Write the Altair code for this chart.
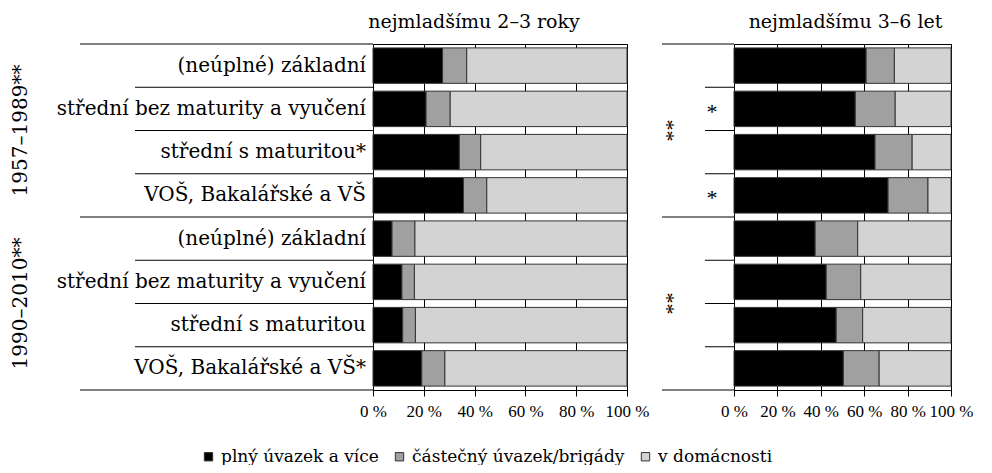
import altair as alt
import pandas as pd

# ---------------- data ----------------
rows = [0, 1, 2, 3, 4, 5, 6, 7]
labels = ["(neúplné) základní", "střední bez maturity a vyučení", "střední s maturitou*",
          "VOŠ, Bakalářské a VŠ",
          "(neúplné) základní", "střední bez maturity a vyučení", "střední s maturitou",
          "VOŠ, Bakalářské a VŠ*"]
groups = ["1957–1989**", "1990–2010**"]
group_mid_rows = [2, 6]          # group label sits at the top edge of this row
outer_rows = [0, 4]              # rows whose top separator spans the group column
inner_rows = [1, 2, 3, 5, 6, 7]
categories = ["plný úvazek a více", "částečný úvazek/brigády", "v domácnosti"]
colors = ["#000000", "#a0a0a0", "#d3d3d3"]
panel_titles = ["nejmladšímu 2–3 roky", "nejmladšímu 3–6 let"]
tick_values = [0, 20, 40, 60, 80, 100]

full_23 = [27.4, 20.9, 34.0, 35.6, 7.5, 11.4, 11.7, 19.2]
part_23 = [9.5, 9.5, 8.4, 9.2, 9.0, 4.9, 5.0, 9.1]
home_23 = [63.1, 69.6, 57.6, 55.2, 83.5, 83.7, 83.3, 71.7]

full_36 = [60.9, 55.9, 65.0, 71.0, 37.4, 42.5, 47.1, 50.4]
part_36 = [13.0, 18.4, 17.1, 18.4, 19.6, 15.9, 12.2, 16.5]
home_36 = [26.1, 25.7, 17.9, 10.6, 43.0, 41.6, 40.7, 33.1]

right_row_marks = ["", "*", "", "*", "", "", "", ""]
right_group_marks = ["**", "**"]

# ---------------- styling ----------------
FONT = "DejaVu Serif"
TICKFONT = "Liberation Serif"
H = 346
STEP = H / 8
W_LEFT = 254
W_RIGHT = 217

yscale = alt.Scale(domain=rows, paddingInner=0.18, paddingOuter=0.09)
Y = alt.Y("row:O", scale=yscale, axis=None)


def long_df(full, part, home):
    recs = []
    for r, a, b, c in zip(rows, full, part, home):
        for k, (cat, v) in enumerate(zip(categories, [a, b, c])):
            recs.append({"row": r, "category": cat, "value": v, "ord": k})
    return pd.DataFrame(recs)


def bars(full, part, home):
    return alt.Chart(long_df(full, part, home)).mark_bar(
        stroke="#333333", strokeWidth=1
    ).encode(
        x=alt.X("value:Q", stack="zero",
                scale=alt.Scale(domain=[0, 100], nice=False),
                axis=alt.Axis(values=tick_values, labelExpr="datum.value + ' %'",
                              title=None, grid=True, gridColor="black", gridOpacity=1,
                              gridWidth=1, domainColor="black", tickColor="black",
                              tickSize=6, labelFont=TICKFONT, labelFontSize=17,
                              labelColor="black", labelPadding=7, labelOverlap=False,
                              labelFlush=False)),
        y=Y,
        color=alt.Color("category:N",
                        scale=alt.Scale(domain=categories, range=colors),
                        sort=categories,
                        legend=alt.Legend(title=None, orient="none", direction="horizontal",
                                          legendX=-173, legendY=404,
                                          symbolType="square", symbolSize=70,
                                          symbolStrokeColor="#333333", symbolStrokeWidth=1,
                                          labelFont=FONT, labelFontSize=17,
                                          labelColor="black", labelOffset=4,
                                          labelLimit=0, columnPadding=12)),
        order=alt.Order("ord:Q"),
    )


def rules(row_list, x_start, offset):
    return alt.Chart(pd.DataFrame({"row": row_list})).mark_rule(
        color="black", strokeWidth=1, yOffset=offset
    ).encode(y=Y, x=alt.value(x_start), x2=alt.value(0))


df_rows = pd.DataFrame({"row": rows, "label": labels, "mark": right_row_marks})
df_groups = pd.DataFrame({"row": group_mid_rows, "group": groups, "mark": right_group_marks})

# ---------------- left panel ----------------
left_labels = alt.Chart(df_rows).mark_text(
    align="right", baseline="middle", font=FONT, fontSize=20, color="black"
).encode(y=Y, x=alt.value(-7), text="label:N")

left_groups = alt.Chart(df_groups).mark_text(
    angle=270, align="center", baseline="middle", font=FONT, fontSize=20,
    color="black", yOffset=-STEP / 2
).encode(y=Y, x=alt.value(-352), text="group:N")

left = alt.layer(
    bars(full_23, part_23, home_23),
    rules(outer_rows, -293, -STEP / 2),
    rules([7], -293, STEP / 2),
    rules(inner_rows, -238, -STEP / 2),
    left_labels,
    left_groups,
).properties(
    width=W_LEFT, height=H,
    title=alt.Title(panel_titles[0], font=FONT, fontSize=19, fontWeight="normal",
                    color="black", offset=12, dx=-26),
)

# ---------------- right panel ----------------
right_stars = alt.Chart(df_rows).mark_text(
    align="center", baseline="middle", font=TICKFONT, fontSize=22, color="black",
    dy=3
).encode(y=Y, x=alt.value(-22), text="mark:N")

right_groups = alt.Chart(df_groups).mark_text(
    angle=270, align="center", baseline="middle", font=TICKFONT, fontSize=22,
    color="black", yOffset=-STEP / 2, dy=3
).encode(y=Y, x=alt.value(-64), text="mark:N")

right = alt.layer(
    bars(full_36, part_36, home_36),
    rules(outer_rows, -72, -STEP / 2),
    rules([7], -72, STEP / 2),
    rules(inner_rows, -29, -STEP / 2),
    right_stars,
    right_groups,
).properties(
    width=W_RIGHT, height=H,
    title=alt.Title(panel_titles[1], font=FONT, fontSize=19, fontWeight="normal",
                    color="black", offset=12, dx=3),
)

chart = alt.hconcat(left, right, spacing=107, bounds="flush").resolve_scale(
    color="shared"
).properties(
    padding={"left": 2, "top": 3, "right": 0, "bottom": 0}
).configure_view(stroke="black", strokeWidth=1)

chart.save("out.html", embed_options={"renderer": "svg", "actions": False})
